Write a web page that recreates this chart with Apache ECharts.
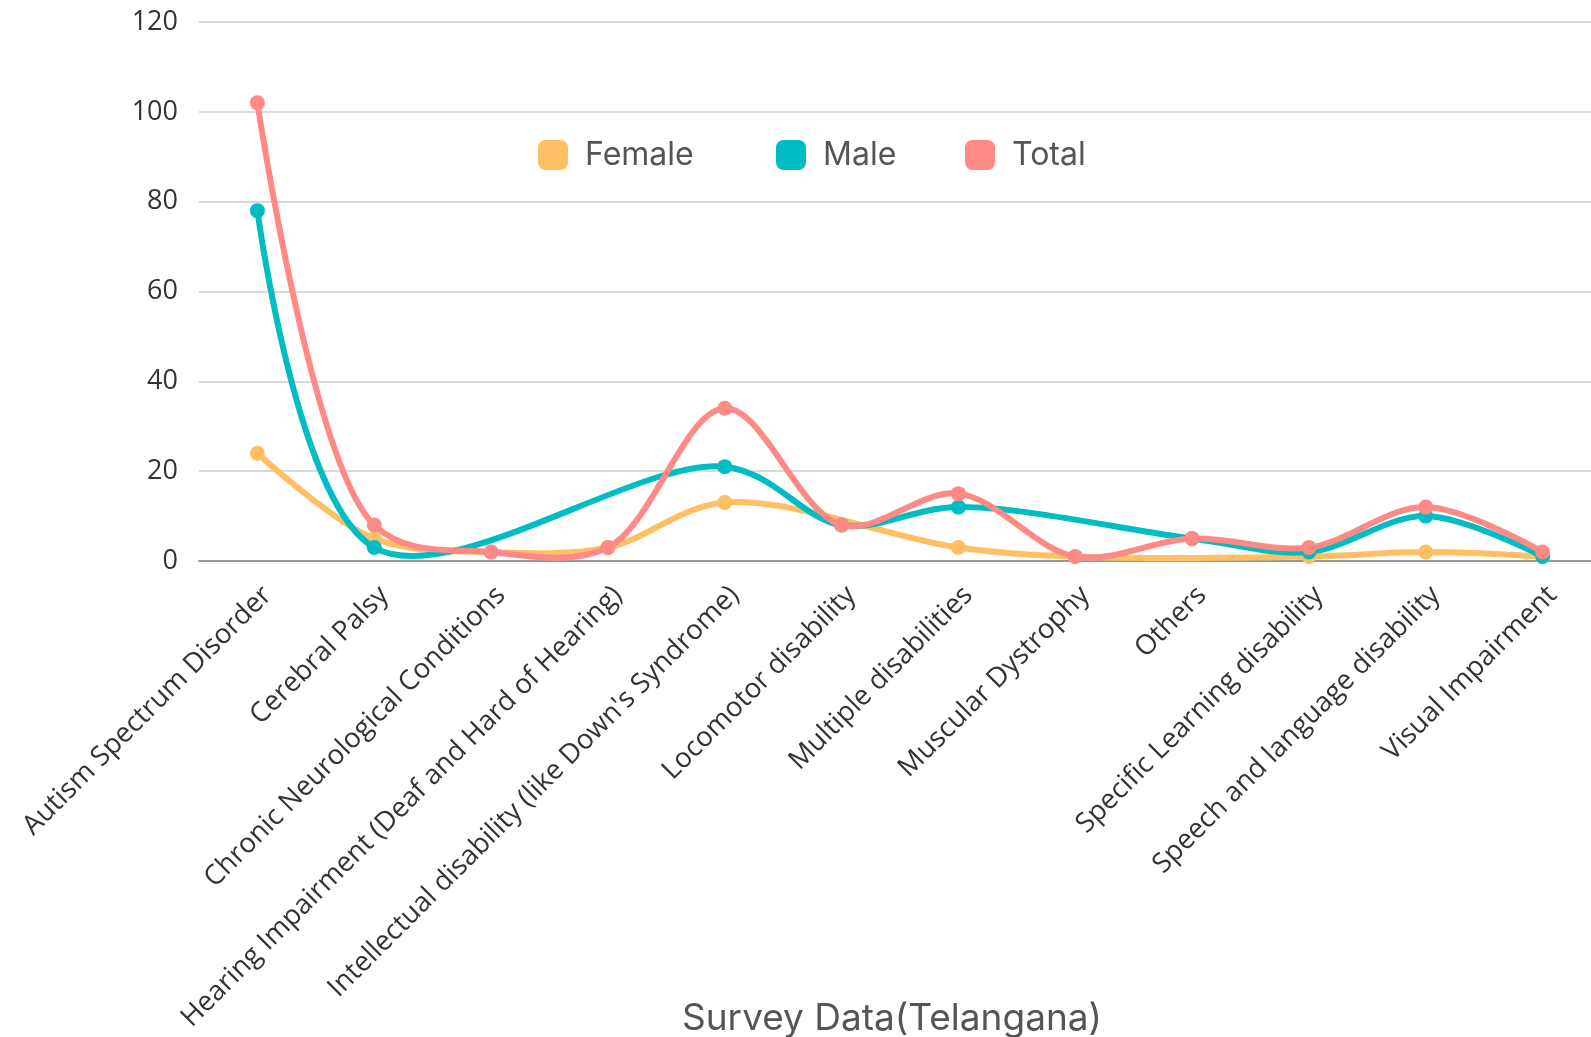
<!DOCTYPE html>
<html>
<head>
<meta charset="utf-8">
<script src="https://cdn.jsdelivr.net/npm/echarts@6/dist/echarts.min.js"></script>
<style>
  html, body { margin: 0; padding: 0; background: #ffffff; }
  #chart { width: 1591px; height: 1037px; }
</style>
</head>
<body>
<div id="chart"></div>
<script>
// Disability categories surveyed in Telangana
const categories = [
  "Autism Spectrum Disorder",
  "Cerebral Palsy",
  "Chronic Neurological Conditions",
  "Hearing Impairment (Deaf and Hard of Hearing)",
  "Intellectual disability (like Down's Syndrome)",
  "Locomotor disability",
  "Multiple disabilities",
  "Muscular Dystrophy",
  "Others",
  "Specific Learning disability",
  "Speech and language disability",
  "Visual Impairment"
];

// Counts per category (null = no entry for that group)
const femaleValues = [24, 5, 2, 3, 13, null, 3, 1, null, 1, 2, 1];
const maleValues   = [78, 3, null, null, 21, 8, 12, null, 5, 2, 10, 1];
const totalValues  = [102, 8, 2, 3, 34, 8, 15, 1, 5, 3, 12, 2];

const yTicks = [0, 20, 40, 60, 80, 100, 120];

const seriesNames = ["Female", "Male", "Total"];
const seriesColors = ["#FFBF62", "#00BCC3", "#FF8985"];

const chart = echarts.init(document.getElementById("chart"), null, { renderer: "canvas" });

// Centripetal Catmull-Rom (alpha = 0.5) control points for the segment p1 -> p2.
function catmullRomControls(p0, p1, p2, p3) {
  const dist = function (a, b) { return Math.hypot(b[0] - a[0], b[1] - a[1]); };
  const l01 = dist(p0, p1), l12 = dist(p1, p2), l23 = dist(p2, p3);
  const l01a = Math.sqrt(l01), l12a = Math.sqrt(l12), l23a = Math.sqrt(l23);
  let c1 = [p1[0], p1[1]];
  let c2 = [p2[0], p2[1]];
  if (l01a > 1e-6) {
    const a = 2 * l01 + 3 * l01a * l12a + l12;
    const n = 3 * l01a * (l01a + l12a);
    c1 = [
      (p1[0] * a - p0[0] * l12 + p2[0] * l01) / n,
      (p1[1] * a - p0[1] * l12 + p2[1] * l01) / n
    ];
  }
  if (l23a > 1e-6) {
    const b = 2 * l23 + 3 * l23a * l12a + l12;
    const m = 3 * l23a * (l23a + l12a);
    c2 = [
      (p2[0] * b + p1[0] * l23 - p3[0] * l12) / m,
      (p2[1] * b + p1[1] * l23 - p3[1] * l12) / m
    ];
  }
  return [c1, c2];
}

// Smooth curve series: each point draws its own marker plus the curve
// segment to the next available point (missing entries are skipped over).
function curveSeries(name, values, color) {
  const pts = values
    .map(function (v, i) { return [i, v]; })
    .filter(function (p) { return p[1] !== null && p[1] !== undefined; });
  return {
    name: name,
    type: "custom",
    data: pts,
    encode: { x: 0, y: 1 },
    itemStyle: { color: color },
    emphasis: { disabled: true },
    clip: false,
    renderItem: function (params, api) {
      const k = params.dataIndex;
      const c = function (j) { return api.coord(pts[j]); };
      const p1 = c(k);
      const children = [];
      if (k + 1 < pts.length) {
        const p2 = c(k + 1);
        const p0 = k > 0 ? c(k - 1) : p1;
        const p3 = k + 2 < pts.length ? c(k + 2) : p2;
        const cp = catmullRomControls(p0, p1, p2, p3);
        children.push({
          type: "bezierCurve",
          shape: {
            x1: p1[0], y1: p1[1],
            x2: p2[0], y2: p2[1],
            cpx1: cp[0][0], cpy1: cp[0][1],
            cpx2: cp[1][0], cpy2: cp[1][1]
          },
          style: { stroke: color, lineWidth: 6, fill: null, lineCap: "round" }
        });
      }
      children.push({
        type: "circle",
        shape: { cx: p1[0], cy: p1[1], r: 7.5 },
        style: { fill: color }
      });
      return { type: "group", children: children };
    }
  };
}

function legendFor(name, left) {
  return {
    data: [name],
    left: left,
    top: 139,
    padding: 0,
    itemWidth: 30,
    itemHeight: 30,
    icon: "roundRect",
    selectedMode: false,
    textStyle: {
      fontFamily: "Inter",
      fontSize: 32,
      color: "#555555",
      padding: [0, 0, 0, 12]
    }
  };
}

chart.setOption({
  backgroundColor: "#ffffff",
  animation: false,
  title: {
    text: "Survey Data(Telangana)",
    left: 677,
    top: 995,
    textStyle: {
      fontFamily: "Inter",
      fontWeight: "normal",
      fontSize: 37,
      color: "#555555"
    }
  },
  legend: [
    legendFor(seriesNames[0], 538),
    legendFor(seriesNames[1], 776),
    legendFor(seriesNames[2], 965)
  ],
  grid: {
    left: 199,
    width: 1402,
    top: 22,
    bottom: 476,
    containLabel: false,
    outerBoundsMode: "none"
  },
  xAxis: {
    type: "category",
    data: categories,
    boundaryGap: true,
    axisTick: { show: false },
    axisLine: { show: true, lineStyle: { color: "#999999", width: 2 } },
    axisLabel: {
      interval: 0,
      rotate: 45,
      margin: 20,
      verticalAlign: "top",
      fontFamily: "Open Sans",
      fontSize: 27.5,
      color: "#333333"
    }
  },
  yAxis: {
    type: "value",
    min: yTicks[0],
    max: yTicks[yTicks.length - 1],
    interval: 20,
    axisLine: { show: false },
    axisTick: { show: false },
    axisLabel: {
      margin: 21,
      fontFamily: "Open Sans",
      fontSize: 27,
      color: "#333333"
    },
    splitLine: { lineStyle: { color: "#d9d9d9", width: 2 } }
  },
  series: [
    curveSeries(seriesNames[0], femaleValues, seriesColors[0]),
    curveSeries(seriesNames[1], maleValues, seriesColors[1]),
    curveSeries(seriesNames[2], totalValues, seriesColors[2])
  ]
});
</script>
</body>
</html>
